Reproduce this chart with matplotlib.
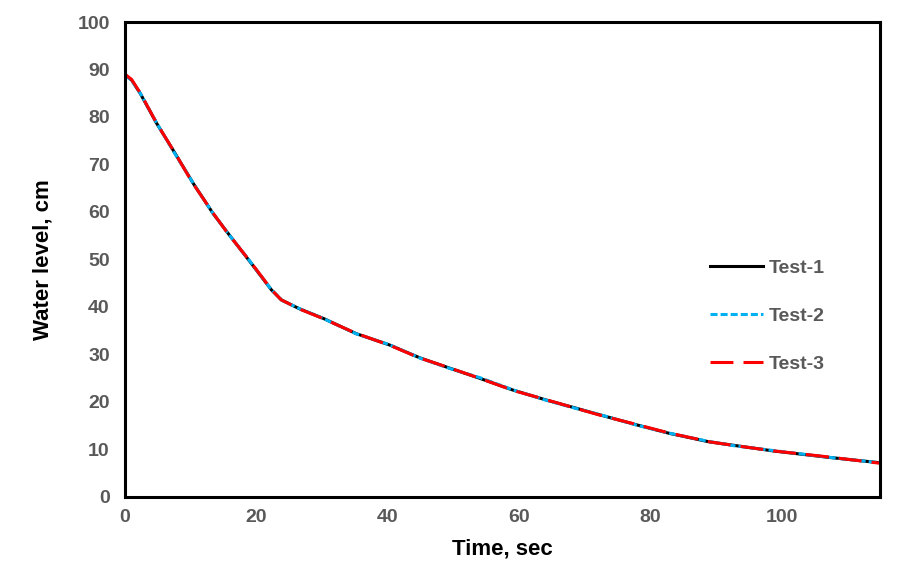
import matplotlib
matplotlib.use("Agg")
import matplotlib.pyplot as plt

# readings (time in sec, level in cm)
time_1 = [0, 1, 2.3, 4.8, 7.6, 10.4, 13.4, 15.7, 19.0, 22.3, 23.8, 26.6, 30.2,
          35.2, 40.3, 44.9, 49.5, 54.0, 59.1, 64.2, 68.7, 72.3, 77.9, 82.9,
          89.0, 92.6, 98.7, 106.8, 115]
level_1 = [88.9, 87.8, 85.0, 78.7, 72.4, 66.0, 59.7, 55.5, 49.6, 43.6, 41.5,
           39.6, 37.6, 34.4, 32.0, 29.3, 27.1, 25.0, 22.5, 20.4, 18.7, 17.3,
           15.2, 13.4, 11.6, 10.9, 9.7, 8.4, 7.2]

time_2 = [0, 1, 2.4, 5.0, 7.5, 10.5, 13.3, 15.8, 19.1, 22.2, 23.9, 26.5, 30.0,
          35.3, 40.2, 45.0, 49.6, 54.1, 59.0, 64.3, 68.8, 72.2, 78.0, 83.0,
          88.9, 92.7, 98.6, 106.9, 115]
level_2 = [88.8, 87.7, 84.8, 78.3, 72.5, 65.8, 59.9, 55.3, 49.5, 43.8, 41.4,
           39.7, 37.7, 34.3, 32.1, 29.2, 27.0, 25.1, 22.6, 20.3, 18.6, 17.4,
           15.1, 13.4, 11.7, 10.8, 9.8, 8.4, 7.2]

time_3 = [0, 1, 2.3, 4.9, 7.7, 10.3, 13.5, 15.6, 19.0, 22.4, 23.8, 26.7, 30.1,
          35.1, 40.4, 44.8, 49.4, 54.0, 59.2, 64.1, 68.6, 72.4, 77.8, 82.8,
          89.1, 92.5, 98.8, 106.7, 115]
level_3 = [89.0, 87.9, 85.1, 78.5, 72.2, 66.1, 59.6, 55.6, 49.7, 43.5, 41.5,
           39.5, 37.6, 34.5, 31.9, 29.3, 27.2, 25.0, 22.4, 20.5, 18.7, 17.2,
           15.3, 13.5, 11.6, 10.9, 9.7, 8.5, 7.1]

plt.rcParams['font.family'] = ['Liberation Sans', 'DejaVu Sans']

fig = plt.figure(figsize=(9.2, 5.76), dpi=100)
ax = fig.add_axes([0.1359, 0.1372, 0.8206, 0.8246])

ax.plot(time_1, level_1, color='black', lw=2.2, label='Test-1')
ax.plot(time_2, level_2, color='#00B0F0', lw=2.2, linestyle=(0, (2.3, 1.0)),
        label='Test-2')
ax.plot(time_3, level_3, color='#FF0000', lw=2.2, linestyle=(0, (7.5, 3.3)),
        label='Test-3')

ax.set_xlim(0, 115)
ax.set_ylim(0, 100)
ax.set_xticks([0, 20, 40, 60, 80, 100])
ax.set_yticks(range(0, 101, 10))
ax.tick_params(length=0, labelsize=14, labelcolor='#595959')
ax.tick_params(axis='y', pad=11)
ax.tick_params(axis='x', pad=9)
for lab in ax.get_xticklabels() + ax.get_yticklabels():
    lab.set_fontweight('bold')
for s in ax.spines.values():
    s.set_linewidth(2.2)
    s.set_color('black')

ax.set_xlabel('Time, sec', fontsize=16, fontweight='bold', labelpad=9)
ax.set_ylabel('Water level, cm', fontsize=16, fontweight='bold', labelpad=17)

leg = ax.legend(loc='center left', bbox_to_anchor=(0.762, 0.381), frameon=False,
                borderpad=0, handlelength=2.7, handletextpad=0.3,
                labelspacing=1.55, prop={'size': 14, 'weight': 'bold'})
for t in leg.get_texts():
    t.set_color('#595959')

fig.savefig('out.png', dpi=100)
